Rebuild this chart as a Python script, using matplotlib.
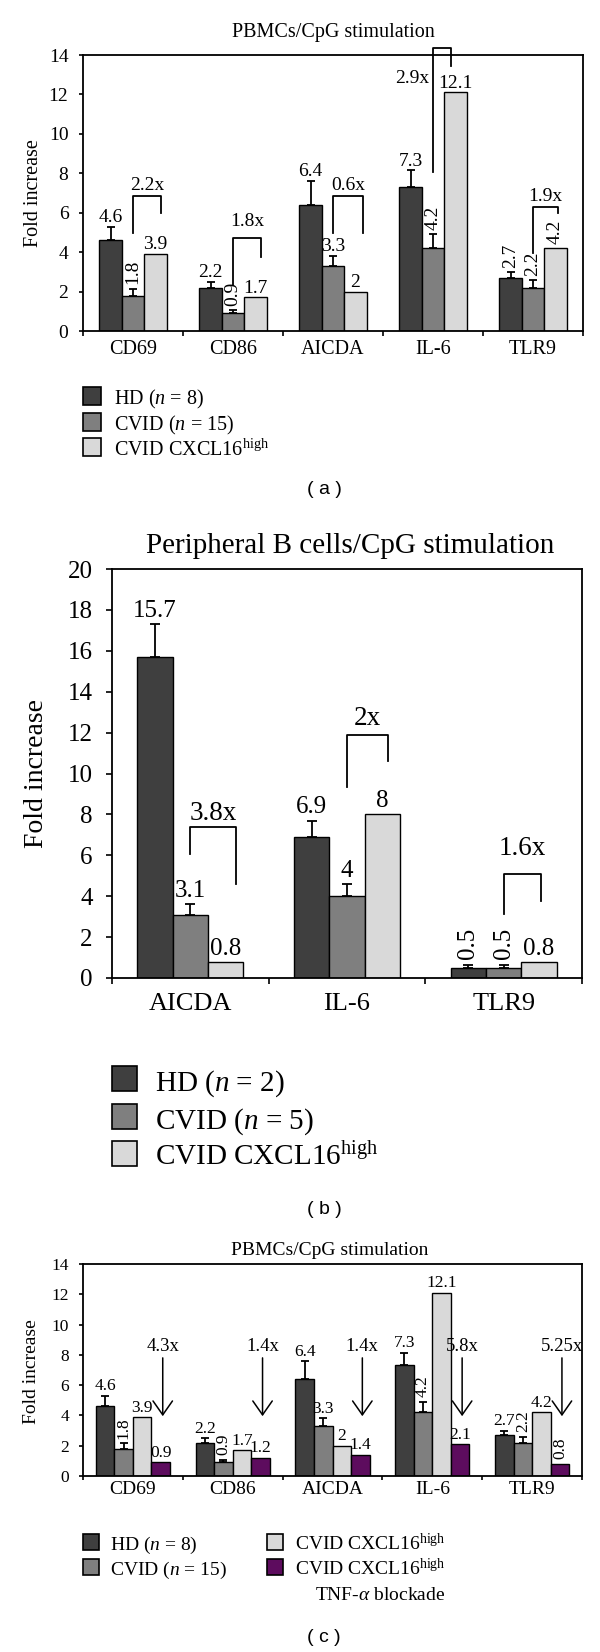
import numpy as np
import matplotlib.pyplot as plt
from matplotlib.patches import Rectangle

plt.rcParams['font.family'] = ['Liberation Serif', 'DejaVu Serif']
plt.rcParams['mathtext.fontset'] = 'custom'
plt.rcParams['mathtext.rm'] = 'Liberation Serif'
plt.rcParams['mathtext.it'] = 'Liberation Serif:italic'

# ---- data ----
genes_pbmc = ['CD69', 'CD86', 'AICDA', 'IL-6', 'TLR9']
hd_pbmc = [4.6, 2.2, 6.4, 7.3, 2.7]
hd_pbmc_err = [0.7, 0.3, 1.2, 0.85, 0.3]
cvid_pbmc = [1.8, 0.9, 3.3, 4.2, 2.2]
cvid_pbmc_err = [0.35, 0.15, 0.5, 0.7, 0.4]
high_pbmc = [3.9, 1.7, 2.0, 12.1, 4.2]
fold_pbmc = ['2.2x', '1.8x', '0.6x', '2.9x', '1.9x']

genes_b = ['AICDA', 'IL-6', 'TLR9']
hd_b = [15.7, 6.9, 0.5]
hd_b_err = [1.6, 0.8, 0.12]
cvid_b = [3.1, 4.0, 0.5]
cvid_b_err = [0.5, 0.6, 0.12]
high_b = [0.8, 8.0, 0.8]
fold_b = ['3.8x', '2x', '1.6x']

tnf_c = [0.9, 1.2, 1.4, 2.1, 0.8]
fold_c = ['4.3x', '1.4x', '1.4x', '5.8x', '5.25x']

legend_a = ['HD ($n$ = 8)', 'CVID ($n$ = 15)', 'CVID CXCL16$^{\\mathrm{high}}$']
legend_b = ['HD ($n$ = 2)', 'CVID ($n$ = 5)', 'CVID CXCL16$^{\\mathrm{high}}$']

# ---- styling / layout ----
C_HD, C_CVID, C_HIGH, C_TNF = '#3f3f3f', '#7f7f7f', '#d9d9d9', '#5d0c5e'
W, H = 600, 1652

fig = plt.figure(figsize=(6, 16.52), dpi=100)


def make_axes(l, t, r, b):
    return fig.add_axes([l / W, 1 - b / H, (r - l) / W, (b - t) / H])


def ftext(x, y, s, **kw):
    fig.text(x / W, 1 - y / H, s, **kw)


def style_axes(ax, cats, ymax, fs, xfs, ypad, xpad, ylen, xlen):
    n = len(cats)
    ax.set_xlim(-0.5, n - 0.5)
    ax.set_ylim(0, ymax)
    ax.set_yticks(np.arange(0, ymax + 1, 2))
    ax.set_xticks(np.arange(n))
    ax.set_xticklabels(cats, fontsize=xfs)
    ax.set_xticks(np.arange(n + 1) - 0.5, minor=True)
    ax.tick_params(axis='x', which='major', length=0, pad=xpad)
    ax.tick_params(axis='x', which='minor', length=xlen, width=1.2, direction='out')
    ax.tick_params(axis='y', length=ylen, width=1.2, direction='out', pad=ypad, labelsize=fs)
    for s in ax.spines.values():
        s.set_linewidth(1.3)


def draw_bars(ax, values, errors, colors, width, fs, rotated, pad_h, pad_r, cap):
    ns = len(values)
    x = np.arange(len(values[0]))
    offsets = (np.arange(ns) - (ns - 1) / 2) * width
    for k in range(ns):
        xs = x + offsets[k]
        ax.bar(xs, values[k], width, color=colors[k], edgecolor='black', linewidth=1.0, zorder=2)
        err = np.zeros(len(x)) if errors[k] is None else np.array(errors[k])
        if errors[k] is not None:
            # upper error only; drawn below the bars so the lower cap hides
            ax.errorbar(xs, values[k], yerr=[np.zeros(len(x)), err], fmt='none', ecolor='black',
                        elinewidth=1.3, capsize=cap, capthick=1.3, zorder=1.5)
        for i in range(len(x)):
            rot = rotated[k][i]
            ax.annotate('%g' % values[k][i], (xs[i], values[k][i] + err[i]),
                        xytext=(0, pad_r if rot else pad_h), textcoords='offset points',
                        ha='center', va='bottom', rotation=90 if rot else 0, fontsize=fs)


def draw_brackets(ax, geom, folds, fs):
    for i, (top, lb, rb, dx, ly) in enumerate(geom):
        x1, x2 = i, i + dx
        ax.plot([x1, x1, x2, x2], [lb, top, top, rb], color='black', lw=1.3, clip_on=False)
        if top > ax.get_ylim()[1]:
            ax.text(x1 - 0.04, ly, folds[i], ha='right', va='center', fontsize=fs)
        else:
            ax.text((x1 + x2) / 2, ly, folds[i], ha='center', va='center', fontsize=fs)


def draw_legend(entries, x, rows, size, tx, fs):
    for (color, label), y in zip(entries, rows):
        fig.add_artist(Rectangle((x / W, 1 - (y + size / 2) / H), size / W, size / H,
                                 transform=fig.transFigure, facecolor=color,
                                 edgecolor='black', lw=1.2))
        ftext(tx, y + 0.42 * fs * 100 / 72, label, ha='left', va='baseline', fontsize=fs)


# ---------------- panel (a) ----------------
ax = make_axes(83, 55, 583, 331)
style_axes(ax, genes_pbmc, 14, 14, 14.5, 7.5, 6.5, 3, 3.5)
rot_a = [[0, 0, 0, 0, 1], [1, 1, 0, 1, 1], [0, 0, 0, 0, 1]]
draw_bars(ax, [hd_pbmc, cvid_pbmc, high_pbmc], [hd_pbmc_err, cvid_pbmc_err, None],
          [C_HD, C_CVID, C_HIGH], 0.225, 14, rot_a, 0.5, 3, 3)
geom_a = [(6.85, 4.95, 5.97, 0.28, 7.4), (4.7, 2.33, 3.77, 0.28, 5.55),
          (6.85, 4.95, 4.95, 0.3, 7.4), (14.36, 8.08, 13.45, 0.18, 12.8),
          (6.27, 3.94, 5.97, 0.25, 6.8)]
draw_brackets(ax, geom_a, fold_pbmc, 14)
ftext(333, 37.5, 'PBMCs/CpG stimulation', ha='center', va='baseline', fontsize=14.5)
ftext(33, 193, 'Fold increase', ha='center', va='center', rotation=90, fontsize=14.5)
draw_legend(zip([C_HD, C_CVID, C_HIGH], legend_a), 83, [396, 422, 447], 18, 114, 14.5)
ftext(324, 489, '( a )', ha='center', va='center', fontsize=14, family='Liberation Sans')

# ---------------- panel (b) ----------------
ax = make_axes(112, 569, 582, 978)
style_axes(ax, genes_b, 20, 18, 19, 10, 11, 4, 4.5)
rot_b = [[0, 0, 1], [0, 0, 1], [0, 0, 0]]
draw_bars(ax, [hd_b, cvid_b, high_b], [hd_b_err, cvid_b_err, None],
          [C_HD, C_CVID, C_HIGH], 0.225, 18, rot_b, 1.5, 4.5, 3.6)
geom_b = [(7.4, 6.06, 4.62, 0.29, 8.05), (11.9, 9.32, 10.6, 0.26, 12.7),
          (5.1, 3.15, 3.75, 0.24, 6.33)]
draw_brackets(ax, geom_b, fold_b, 19.5)
ftext(350, 552.7, 'Peripheral B cells/CpG stimulation', ha='center', va='baseline', fontsize=21)
ftext(36.5, 773, 'Fold increase', ha='center', va='center', rotation=90, fontsize=20)
draw_legend(zip([C_HD, C_CVID, C_HIGH], legend_b), 112, [1078, 1116, 1153], 25, 155, 21)
ftext(324, 1210, '( b )', ha='center', va='center', fontsize=14, family='Liberation Sans')

# ---------------- panel (c) ----------------
ax = make_axes(83, 1264, 582, 1476)
style_axes(ax, genes_pbmc, 14, 12.5, 14, 7, 3.5, 3, 3)
rot_c = [[0, 0, 0, 0, 0], [1, 1, 0, 1, 1], [0, 0, 0, 0, 0], [0, 0, 0, 0, 1]]
draw_bars(ax, [hd_pbmc, cvid_pbmc, high_pbmc, tnf_c], [hd_pbmc_err, cvid_pbmc_err, None, None],
          [C_HD, C_CVID, C_HIGH, C_TNF], 0.186, 12.5, rot_c, 1, 3.5, 3)
for i, lab in enumerate(fold_c):
    xa = i + 1.5 * 0.186 + 0.02
    ax.annotate('', xy=(xa, 3.95), xytext=(xa, 7.8),
                arrowprops=dict(arrowstyle='->,head_length=0.5,head_width=0.35',
                                lw=1.1, color='black', mutation_scale=20, shrinkA=0, shrinkB=0))
    ax.text(xa, 8.55, lab, ha='center', va='center', fontsize=13.5)
ftext(330, 1255, 'PBMCs/CpG stimulation', ha='center', va='baseline', fontsize=14)
ftext(31.5, 1372, 'Fold increase', ha='center', va='center', rotation=90, fontsize=14)
draw_legend([(C_HD, legend_a[0]), (C_CVID, legend_a[1])], 83, [1542, 1567], 16, 110, 14)
draw_legend([(C_HIGH, legend_a[2]), (C_TNF, legend_a[2])], 267, [1542, 1567], 16, 295, 14)
ftext(315, 1592 + 0.42 * 14 * 100 / 72, 'TNF-$\\alpha$ blockade', ha='left', va='baseline', fontsize=14)
ftext(324, 1638, '( c )', ha='center', va='center', fontsize=14, family='Liberation Sans')

fig.savefig('out.png', dpi=100)
